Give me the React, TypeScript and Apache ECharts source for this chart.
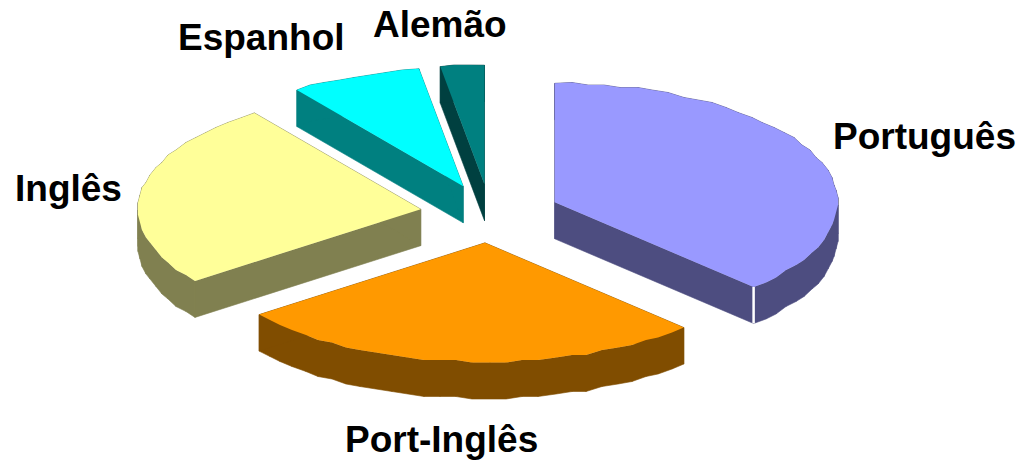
import React, { useEffect, useRef } from "react";
import * as echarts from "echarts";

const categories = ["Português", "Port-Inglês", "Inglês", "Espanhol", "Alemão"];
const shares = [37.6, 27.1, 25.3, 7.5, 2.5];
const topColors = ["#9999FF", "#FF9900", "#FFFF99", "#00FFFF", "#008080"];
const sideColors = ["#4D4D80", "#804D00", "#808050", "#008080", "#004040"];

const CX = 490, CY = 213.5, RX = 283, RY = 119, EXPLODE = 70, DEPTH = 36.5;
const total = shares.reduce((a, b) => a + b, 0);

const STEP_DEG = 3.4;
const SNAP_X = 2;
const SNAP_Y = 2.5;

function outline(startDeg: number, endDeg: number) {
  const mid = ((startDeg + endDeg) / 2) * Math.PI / 180;
  const ax = CX + EXPLODE * Math.sin(mid);
  const ay = CY - EXPLODE * Math.cos(mid) * (RY / RX);
  const pts: number[][] = [[ax, ay]];
  const n = Math.max(2, Math.round((endDeg - startDeg) / STEP_DEG));
  for (let i = 0; i <= n; i++) {
    const t = (startDeg + ((endDeg - startDeg) * i) / n) * Math.PI / 180;
    let x = ax + RX * Math.sin(t);
    let y = ay - RY * Math.cos(t);
    if (i > 0 && i < n) {
      x = Math.round(x / SNAP_X) * SNAP_X;
      y = Math.round(y / SNAP_Y) * SNAP_Y;
    }
    pts.push([x, y]);
  }
  return pts;
}

function renderSlice(params: any, api: any) {
  const idx = params.dataIndex;
  const value = api.value(0);
  let before = 0;
  for (let i = 0; i < idx; i++) before += shares[i];
  const start = (before / total) * 360;
  const end = ((before + value) / total) * 360;
  const top = outline(start, end);
  const children: any[] = [];
  for (let i = 0; i < top.length; i++) {
    const a = top[i];
    const b = top[(i + 1) % top.length];
    children.push({
      type: "polygon",
      shape: { points: [a, b, [b[0], b[1] + DEPTH], [a[0], a[1] + DEPTH]] },
      style: { fill: sideColors[idx], stroke: sideColors[idx], lineWidth: 0.6 },
    });
  }
  children.push({
    type: "polygon",
    shape: { points: top },
    style: { fill: topColors[idx] },
  });
  // the pale seam on the corner where the cut face meets the rim
  if (idx === 0) {
    const c = top[top.length - 1];
    children.push({
      type: "line",
      shape: { x1: c[0], y1: c[1], x2: c[0], y2: c[1] + DEPTH },
      style: { stroke: "#FFFFFF", lineWidth: 2.5 },
    });
  }
  return { type: "group", children };
}

const labelFont = { fontFamily: "Liberation Sans", fontWeight: "bold", fontSize: 37, fill: "#000000" };
const labelPlaces = [
  { x: 833, y: 136 },
  { x: 345, y: 439 },
  { x: 15, y: 188 },
  { x: 178, y: 37 },
  { x: 373, y: 24 },
];

export default function App() {
  const ref = useRef<HTMLDivElement>(null);
  useEffect(() => {
    document.body.style.margin = "0";
    const chart = echarts.init(ref.current!, undefined, { renderer: "svg" });
    chart.setOption({
      animation: false,
      backgroundColor: "#FFFFFF",
      series: [
        {
          type: "custom",
          coordinateSystem: "none",
          renderItem: renderSlice,
          data: categories.map((name, i) => ({ name, value: [shares[i]] })),
        },
      ],
      graphic: categories.map((name, i) => ({
        type: "text",
        x: labelPlaces[i].x,
        y: labelPlaces[i].y,
        style: { text: name, verticalAlign: "middle", ...labelFont },
      })),
    });
    return () => chart.dispose();
  }, []);
  return <div ref={ref} style={{ position: "absolute", left: 0, top: 0, width: 1022, height: 462 }} />;
}
